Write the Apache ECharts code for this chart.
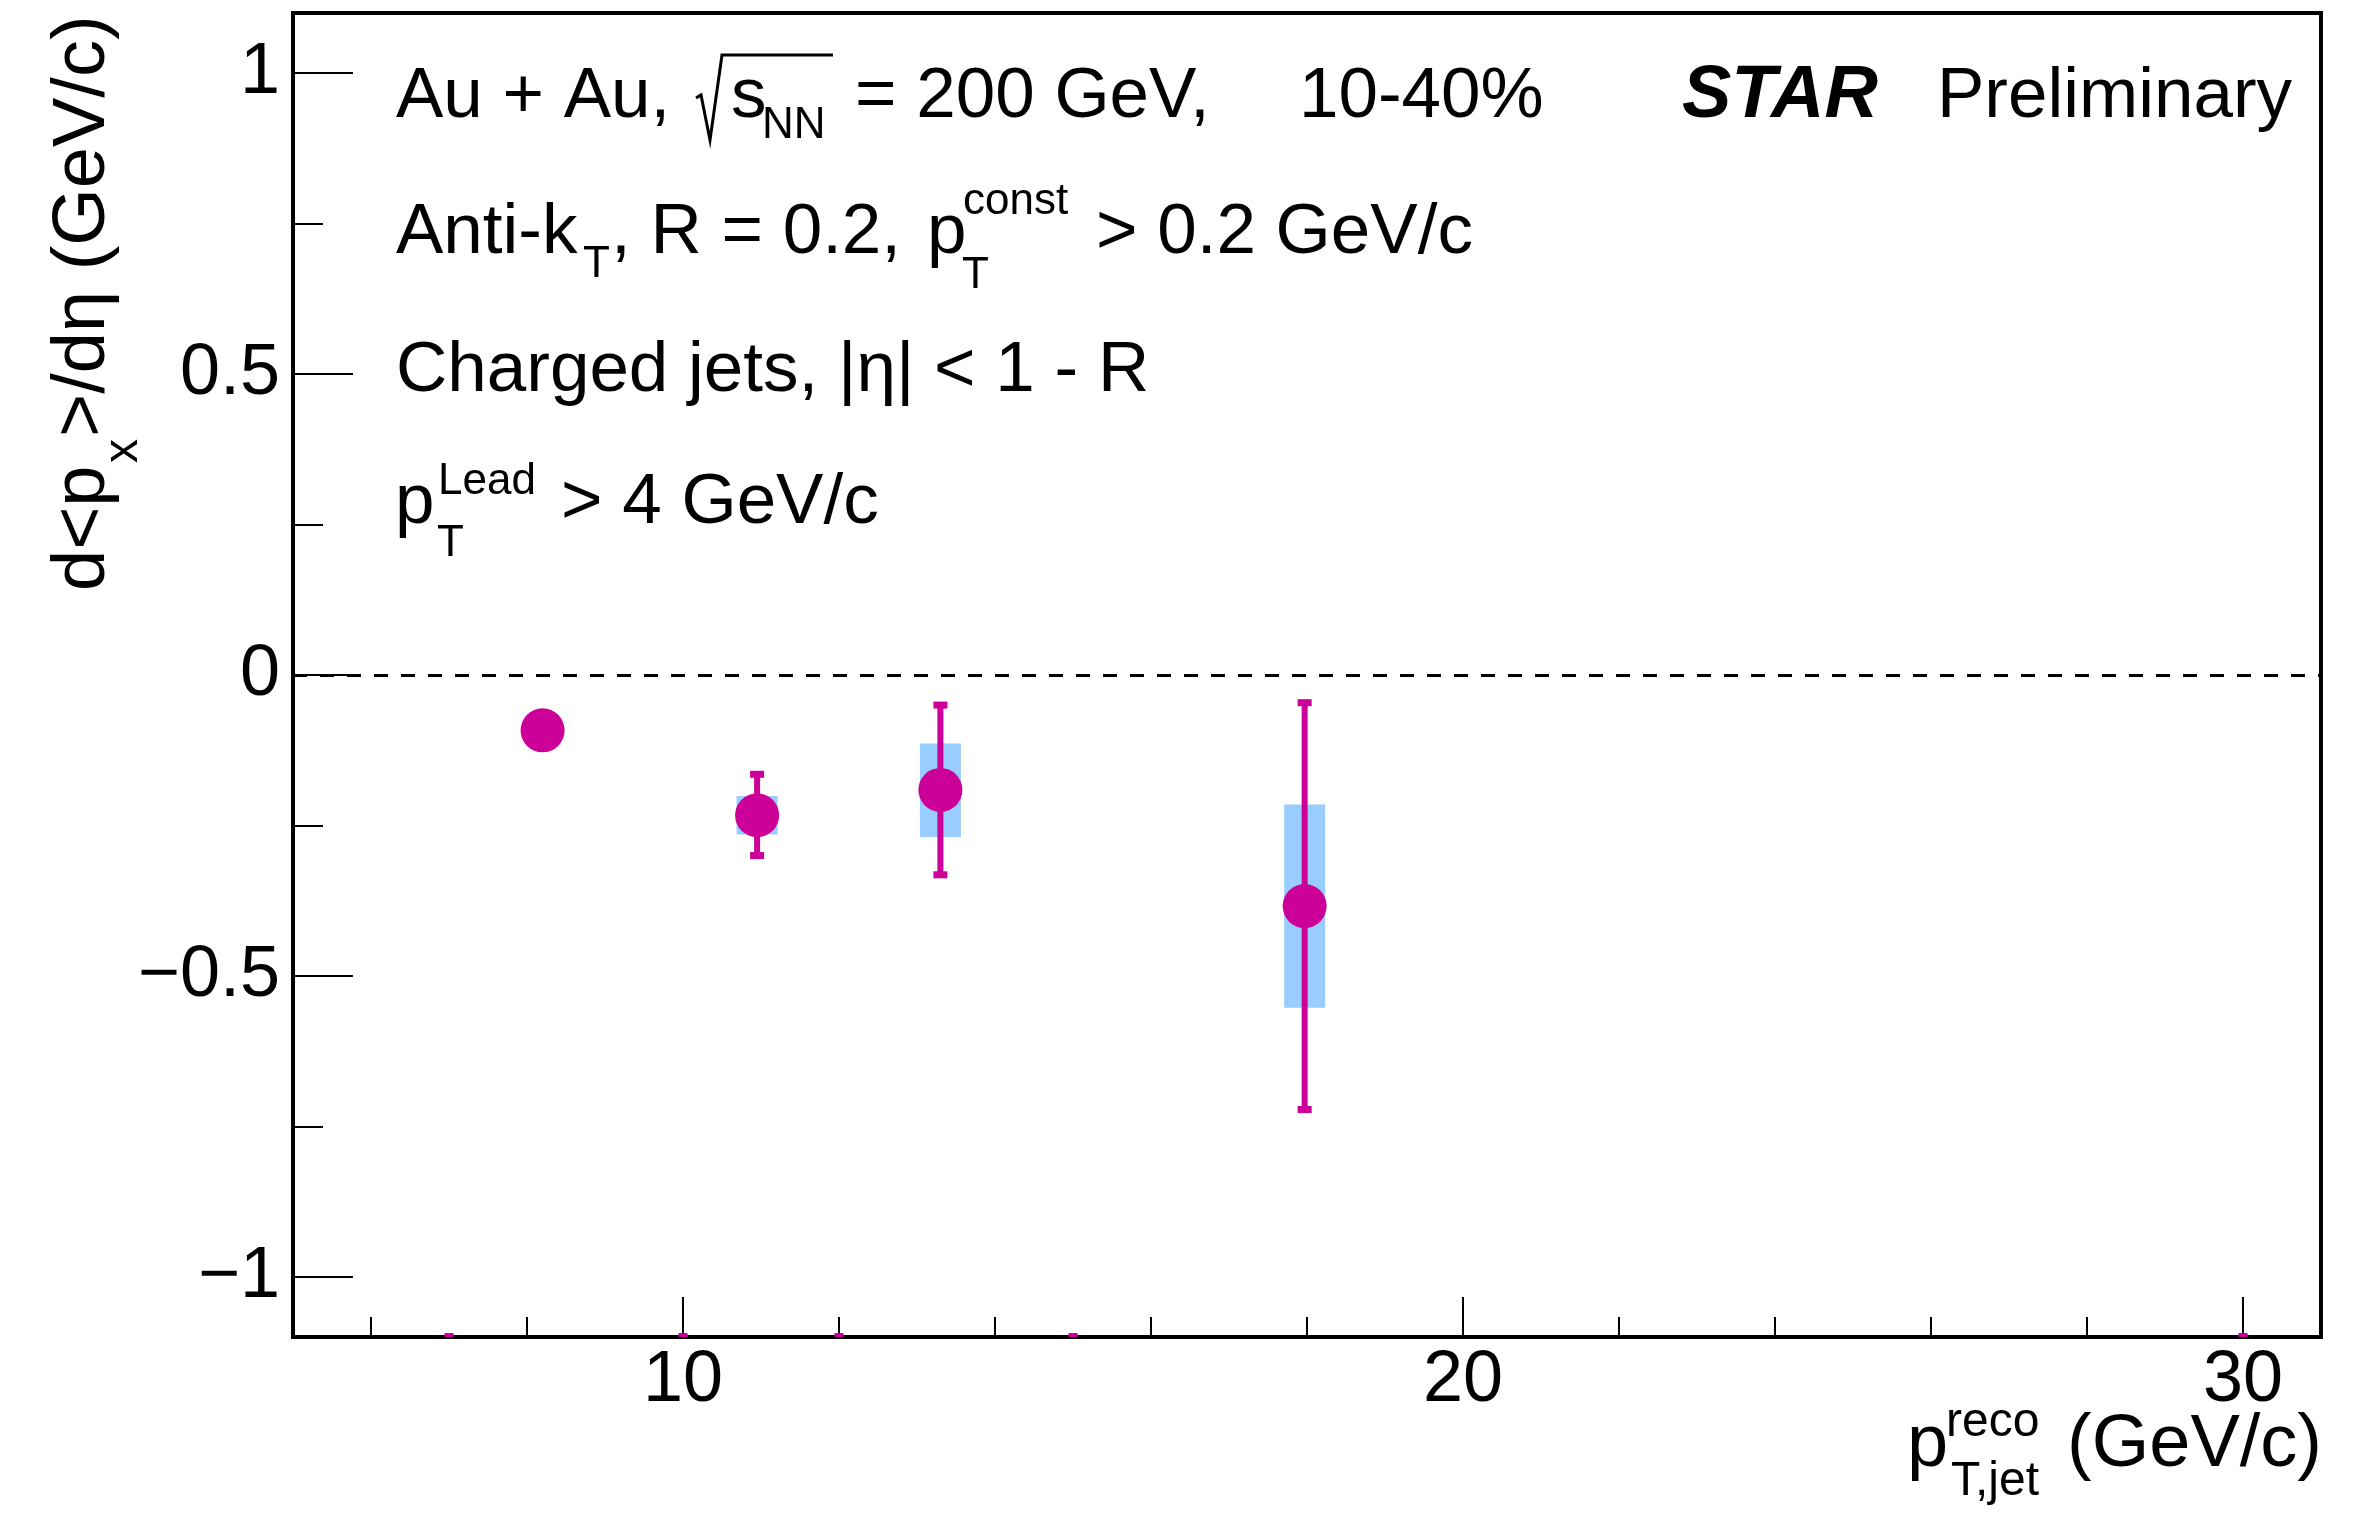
<!DOCTYPE html>
<html>
<head>
<meta charset="utf-8">
<script src="https://cdn.jsdelivr.net/npm/echarts@6/dist/echarts.min.js"></script>
<style>
  html, body { margin: 0; padding: 0; background: #fff; }
  #chart { width: 2377px; height: 1519px; }
</style>
</head>
<body>
<div id="chart"></div>
<script>
// Reconstructed jet pT bins and d<px>/deta values
const ptJet    = [8.2, 10.95, 13.3, 17.97];
const dPxdEta  = [-0.092, -0.233, -0.191, -0.384];
// statistical error band edges (absolute values)
const statLow  = [null, -0.300, -0.332, -0.722];
const statHigh = [null, -0.165, -0.050, -0.046];
// systematic uncertainty box edges (absolute values)
const sysLow   = [null, -0.265, -0.269, -0.553];
const sysHigh  = [null, -0.201, -0.114, -0.215];
// entries lying below the plotted range, shown where they meet the lower frame
const belowRangeX = [7, 10, 12, 15, 30];

// axis ticks and labels
const xMajor = [10, 20, 30];
const xMinor = [6, 8, 12, 14, 16, 18, 22, 24, 26, 28];
const yMajor = [-1, -0.5, 0, 0.5, 1];
const yMinor = [-0.75, -0.25, 0.25, 0.75];
const xRange = [5, 31];
const yRange = [-1.1, 1.1];

const FONT = '"Liberation Sans", Arimo, Arial, Helvetica, sans-serif';
const MAGENTA = '#cc0099';
const BOXBLUE = '#99ccff';
const MID = 0.29; // em-middle to alphabetic baseline for this font

// text piece placed by its alphabetic baseline
function txt(x, base, text, size, extra) {
  return {
    type: 'text', x: x, y: base - MID * size, silent: true, z: 10,
    style: Object.assign({
      text: text, fontSize: size, fontFamily: FONT, fill: '#000',
      align: 'left', verticalAlign: 'middle'
    }, extra || {})
  };
}
// vertical text (reads bottom to top), baseline at screen x = baseX
function vtxt(baseX, startY, text, size) {
  return {
    type: 'text', x: baseX - MID * size, y: startY, rotation: Math.PI / 2,
    silent: true, z: 10,
    style: {
      text: text, fontSize: size, fontFamily: FONT, fill: '#000',
      align: 'left', verticalAlign: 'middle'
    }
  };
}

const pointData = ptJet.map((x, i) => [x, dPxdEta[i]]);
const sysData = [];
const statData = [];
ptJet.forEach((x, i) => {
  if (sysLow[i] != null) sysData.push([x, sysLow[i], sysHigh[i]]);
  if (statLow[i] != null) statData.push([x, statLow[i], statHigh[i]]);
});
const belowData = belowRangeX.map(x => [x, yRange[0]]);

const tickLine = { color: '#000', width: 2 };
const M = 71;   // main annotation size
const S = 44;   // sub/superscript size

const option = {
  animation: false,
  backgroundColor: '#fff',
  grid: {
    left: 293, top: 13, width: 2028, height: 1324,
    show: true, borderColor: '#000', borderWidth: 4,
    backgroundColor: 'transparent',
    containLabel: false, outerBoundsMode: 'none'
  },
  xAxis: [
    {
      type: 'value', min: xRange[0], max: xRange[1], position: 'bottom',
      axisLine: { show: true, onZero: false, lineStyle: { color: '#000', width: 4 } },
      axisTick: { show: true, inside: true, length: 40, customValues: xMajor, lineStyle: tickLine },
      axisLabel: {
        show: true, customValues: xMajor, margin: 8,
        fontSize: 72, fontFamily: FONT, color: '#000'
      },
      splitLine: { show: false }
    },
    {
      type: 'value', min: xRange[0], max: xRange[1], position: 'bottom',
      axisLine: { show: false, onZero: false },
      axisTick: { show: true, inside: true, length: 20, customValues: xMinor, lineStyle: tickLine },
      axisLabel: { show: false },
      splitLine: { show: false }
    }
  ],
  yAxis: [
    {
      type: 'value', min: yRange[0], max: yRange[1], position: 'left',
      axisLine: { show: true, onZero: false, lineStyle: { color: '#000', width: 4 } },
      axisTick: { show: true, inside: true, length: 60, customValues: yMajor, lineStyle: tickLine },
      axisLabel: {
        show: true, customValues: yMajor, margin: 13,
        fontSize: 72, fontFamily: FONT, color: '#000',
        formatter: v => (v < 0 ? '\u2212' : '') + String(Math.abs(v))
      },
      splitLine: { show: false }
    },
    {
      type: 'value', min: yRange[0], max: yRange[1], position: 'left',
      axisLine: { show: false, onZero: false },
      axisTick: { show: true, inside: true, length: 30, customValues: yMinor, lineStyle: tickLine },
      axisLabel: { show: false },
      splitLine: { show: false }
    }
  ],
  series: [
    {
      name: 'sys', type: 'custom', xAxisIndex: 0, yAxisIndex: 0, z: 2,
      data: sysData,
      renderItem: function (params, api) {
        const top = api.coord([api.value(0), api.value(2)]);
        const bot = api.coord([api.value(0), api.value(1)]);
        const w = 41;
        return {
          type: 'rect',
          shape: { x: top[0] - w / 2, y: top[1], width: w, height: bot[1] - top[1] },
          style: { fill: BOXBLUE }
        };
      }
    },
    {
      name: 'stat', type: 'custom', xAxisIndex: 0, yAxisIndex: 0, z: 3,
      data: statData,
      renderItem: function (params, api) {
        const hi = api.coord([api.value(0), api.value(2)]);
        const lo = api.coord([api.value(0), api.value(1)]);
        const cw = 14, ch = 7;
        return {
          type: 'group',
          children: [
            { type: 'line', shape: { x1: hi[0], y1: hi[1], x2: lo[0], y2: lo[1] },
              style: { stroke: MAGENTA, lineWidth: 6 } },
            { type: 'rect', shape: { x: hi[0] - cw / 2, y: hi[1] - ch / 2, width: cw, height: ch },
              style: { fill: MAGENTA } },
            { type: 'rect', shape: { x: lo[0] - cw / 2, y: lo[1] - ch / 2, width: cw, height: ch },
              style: { fill: MAGENTA } }
          ]
        };
      }
    },
    {
      name: 'points', type: 'scatter', xAxisIndex: 0, yAxisIndex: 0, z: 4,
      data: pointData, symbol: 'circle', symbolSize: 44,
      itemStyle: { color: MAGENTA, opacity: 1 },
      markLine: {
        silent: true, symbol: ['none', 'none'],
        label: { show: false },
        lineStyle: { color: '#000', width: 3, type: [14, 13] },
        data: [{ yAxis: 0 }]
      }
    },
    {
      name: 'below', type: 'scatter', xAxisIndex: 0, yAxisIndex: 0, z: 5,
      clip: false, data: belowData, symbol: 'rect', symbolSize: [9, 4], symbolOffset: [0, -2],
      itemStyle: { color: MAGENTA, opacity: 1 }
    }
  ],
  graphic: {
    elements: [
      // line 1
      txt(396, 118, 'Au + Au,', M),
      { type: 'polyline', silent: true, z: 10,
        shape: { points: [[696, 98], [701, 95], [710, 140], [722, 55], [833, 55]] },
        style: { stroke: '#000', lineWidth: 3, fill: null } },
      txt(731, 118, 's', M),
      txt(762, 139, 'NN', S),
      txt(855, 118, '= 200 GeV,', M),
      txt(1299, 118, '10-40%', M),
      txt(1682, 118, 'STAR', 74, { fontWeight: 'bold', fontStyle: 'italic' }),
      txt(1937, 118, 'Preliminary', 71),
      // line 2
      txt(396, 254, 'Anti-k', M),
      txt(583, 278, 'T', S),
      txt(611, 254, ', R = 0.2,', M),
      txt(927, 254, 'p', M),
      txt(962, 289, 'T', S),
      txt(963, 215, 'const', S),
      txt(1096, 254, '> 0.2 GeV/c', M),
      // line 3
      txt(396, 392, 'Charged jets, |\u03b7| < 1 - R', M),
      // line 4
      txt(395, 524, 'p', M),
      txt(437, 557, 'T', S),
      txt(438, 495, 'Lead', S),
      txt(561, 524, '> 4 GeV/c', M),
      // x axis title
      txt(1907, 1467, 'p', 74),
      txt(1946, 1437, 'reco', 48),
      txt(1951, 1496, 'T,jet', 48),
      txt(2322, 1467, '(GeV/c)', 74, { align: 'right' }),
      // y axis title
      vtxt(105, 591, 'd<p', 74),
      vtxt(138, 463, 'x', 48),
      vtxt(105, 437, '>/d\u03b7 (GeV/c)', 74)
    ]
  }
};

const chart = echarts.init(document.getElementById('chart'), null, { renderer: 'canvas' });
chart.setOption(option);
</script>
</body>
</html>
